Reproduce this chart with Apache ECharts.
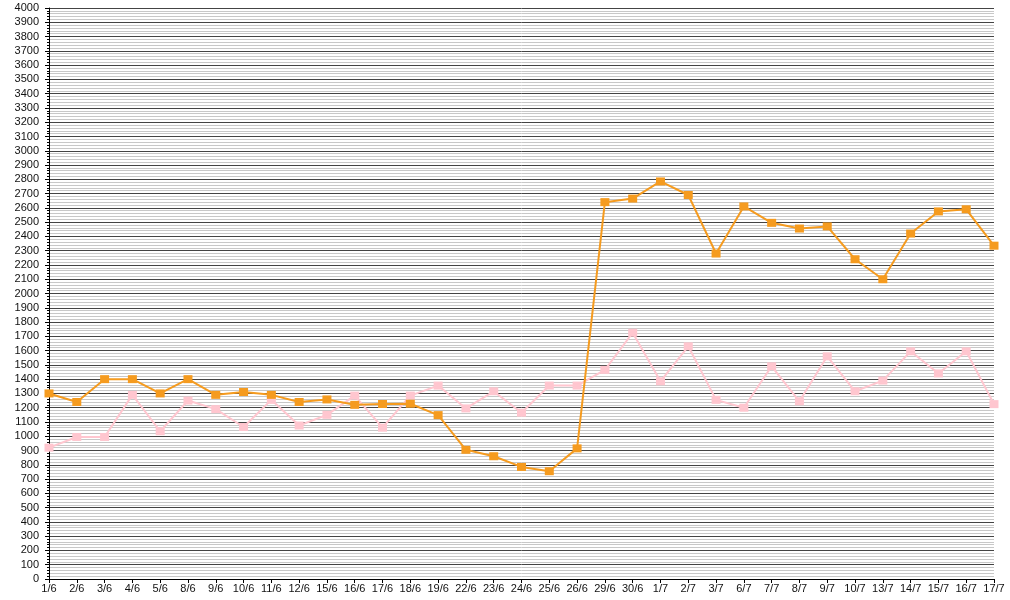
<!DOCTYPE html>
<html><head><meta charset="utf-8">
<script src="https://cdn.jsdelivr.net/npm/echarts@6/dist/echarts.min.js"></script>
<style>html,body{margin:0;padding:0;background:#fff}#c{width:1010px;height:600px}</style>
</head><body><div id="c"></div>
<script>
const categories = ['1/6','2/6','3/6','4/6','5/6','8/6','9/6','10/6','11/6','12/6','15/6','16/6','17/6','18/6','19/6','22/6','23/6','24/6','25/6','26/6','29/6','30/6','1/7','2/7','3/7','6/7','7/7','8/7','9/7','10/7','13/7','14/7','15/7','16/7','17/7'];
const orangeSeries = [1300,1240,1400,1400,1300,1400,1290,1310,1290,1240,1258,1220,1226,1228,1148,905,860,785,755,915,2640,2665,2785,2690,2280,2610,2495,2455,2470,2240,2100,2420,2575,2590,2335];
const pinkSeries = [920,995,995,1290,1035,1250,1190,1065,1255,1075,1150,1285,1060,1285,1355,1195,1315,1165,1355,1355,1465,1725,1385,1630,1255,1200,1490,1245,1560,1315,1390,1595,1440,1595,1225];
const yMin = 0, yMax = 4000, yStep = 100;

const chart = echarts.init(document.getElementById('c'), null, {renderer:'canvas'});
chart.setOption({
  animation:false,
  backgroundColor:'#fff',
  grid:{left:49,right:16,top:8,bottom:21,containLabel:false},
  xAxis:{
    type:'category', data:categories, boundaryGap:false,
    axisLine:{lineStyle:{color:'#000',width:1}},
    axisTick:{show:true,alignWithLabel:true,length:4,lineStyle:{color:'#000'}},
    axisLabel:{interval:0,color:'#111',fontSize:11,fontFamily:'Liberation Sans, Arial',margin:4},
    splitLine:{show:false}
  },
  yAxis:{
    type:'value', min:yMin, max:yMax, interval:yStep,
    axisLine:{show:true,lineStyle:{color:'#000',width:1}},
    axisTick:{show:true,length:4,lineStyle:{color:'#000'}},
    minorTick:{show:true,splitNumber:5,length:2,lineStyle:{color:'#000'}},
    axisLabel:{color:'#111',fontSize:11,fontFamily:'Liberation Sans, Arial',margin:10,formatter:function(v){return String(v);}},
    splitLine:{show:true,lineStyle:{color:'#444',width:1}},
    minorSplitLine:{show:true,lineStyle:{color:'#c8c8c8',width:1}}
  },
  series:[
    {type:'line',data:pinkSeries,symbol:'rect',symbolSize:[9,8],
     itemStyle:{color:'#ffc6cf'},lineStyle:{color:'#ffc6cf',width:2},z:2},
    {type:'line',data:orangeSeries,symbol:'rect',symbolSize:[9,8],
     itemStyle:{color:'#f59b1f'},lineStyle:{color:'#f59b1f',width:2},z:3}
  ]
});
</script></body></html>
